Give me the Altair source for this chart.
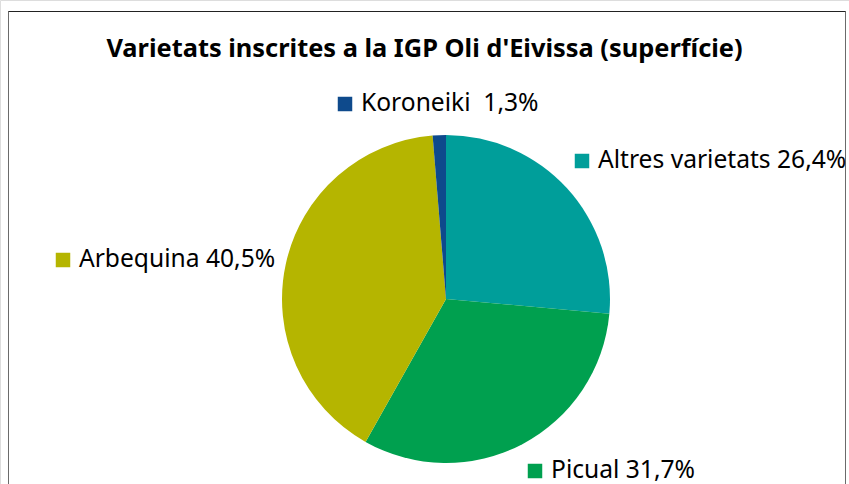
import altair as alt
import pandas as pd

# Data
categories = ["Altres varietats", "Picual", "Arbequina", "Koroneiki"]
values = [26.4, 31.7, 40.5, 1.3]
value_labels = ["26,4%", "31,7%", "40,5%", "1,3%"]
colors = ["#009E9A", "#00A04F", "#B5B500", "#0E4A8C"]
label_texts = ["Altres varietats 26,4%", "Picual 31,7%", "Arbequina 40,5%", "Koroneiki\u00a0\u00a01,3%"]

# Layout (label anchor positions, pixels)
label_x = [598, 551, 79, 361]
label_y = [161, 471, 260, 104]

W, H = 849, 484
CX, CY, R = 446, 299, 164

df = pd.DataFrame({
    "cat": categories,
    "val": values,
    "order": list(range(len(categories))),
})
lab = pd.DataFrame({
    "cat": categories,
    "text": label_texts,
    "lx": label_x,
    "ly": label_y,
})
lab["sx"] = lab["lx"] - 16

color_scale = alt.Scale(domain=categories, range=colors)

pie = alt.Chart(df).mark_arc(radius=R, stroke=None).encode(
    theta=alt.Theta("val:Q", stack=True),
    order=alt.Order("order:Q"),
    color=alt.Color("cat:N", scale=color_scale, legend=None),
    x=alt.value(CX),
    y=alt.value(CY),
)

squares = alt.Chart(lab).mark_square(size=210, opacity=1).encode(
    x=alt.X("sx:Q", scale=None, axis=None),
    y=alt.Y("ly:Q", scale=None, axis=None),
    color=alt.Color("cat:N", scale=color_scale, legend=None),
)

texts = alt.Chart(lab).mark_text(
    align="left", baseline="middle", font="Noto Sans", fontSize=24.6, color="#000000"
).encode(
    x=alt.X("lx:Q", scale=None, axis=None),
    y=alt.Y("ly:Q", scale=None, axis=None),
    text="text:N",
)

title = alt.Chart(pd.DataFrame({"t": ["Varietats inscrites a la IGP Oli d'Eivissa (superfície)"]})).mark_text(
    align="center", baseline="alphabetic", font="Noto Sans", fontWeight="bold", fontSize=25.4, color="#000000"
).encode(
    x=alt.value(424.5), y=alt.value(57), text="t:N"
)

frame_sides = alt.Chart(pd.DataFrame({"a": [0]})).mark_rect(
    fill=None, stroke="#6b6b6b", strokeWidth=1
).encode(
    x=alt.value(8.5), x2=alt.value(845.5), y=alt.value(11.5), y2=alt.value(540)
)
frame_top = alt.Chart(pd.DataFrame({"a": [0]})).mark_rule(
    stroke="#222222", strokeWidth=1
).encode(
    x=alt.value(8.5), x2=alt.value(845.5), y=alt.value(11.5)
)

chart = alt.layer(frame_sides, frame_top, pie, squares, texts, title).properties(
    width=W, height=H, padding=0, autosize=alt.AutoSizeParams(type="none")
).configure_view(stroke=None).configure(background="white")

chart.save("out.html", embed_options={"renderer": "svg", "actions": False})
